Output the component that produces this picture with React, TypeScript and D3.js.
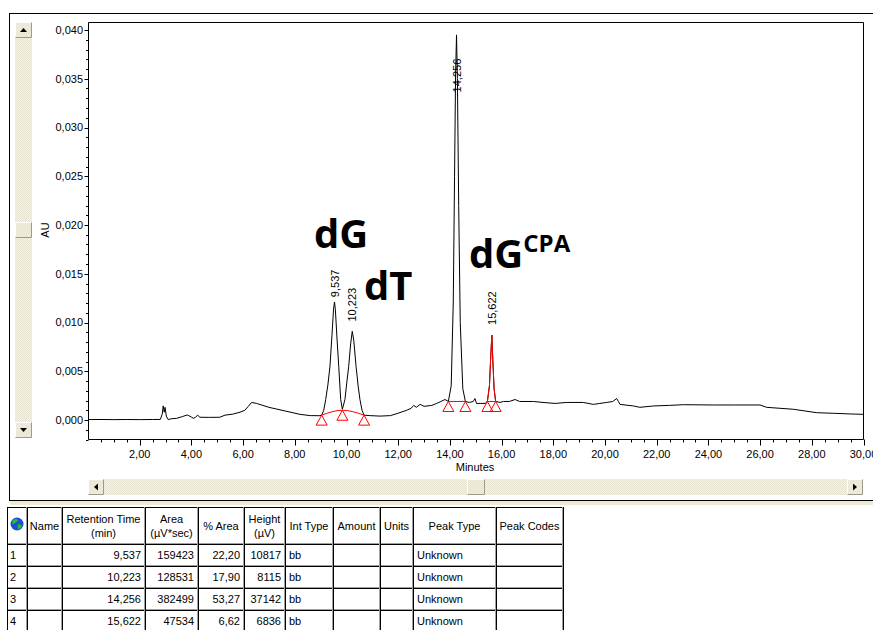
import React from "react";
import * as d3 from "d3";

// ---- Data ----
const traceTime = [0.0,0.5,1.0,1.5,2.0,2.5,2.80,2.87,2.91,2.95,2.98,3.03,3.10,3.24,3.43,3.65,3.84,4.00,4.07,4.15,4.24,4.33,4.7,5.1,5.3,5.6,5.88,6.07,6.2,6.33,6.52,7.0,7.5,8.2,8.6,8.97,9.04,9.12,9.195,9.28,9.36,9.44,9.50,9.537,9.57,9.63,9.70,9.775,9.84,9.94,10.01,10.085,10.16,10.223,10.28,10.37,10.45,10.52,10.60,10.68,10.9,11.3,11.7,12.0,12.33,12.5,12.6,12.7,12.85,13.0,13.3,13.49,13.65,13.81,13.94,14.05,14.13,14.18,14.22,14.256,14.29,14.34,14.40,14.50,14.60,14.75,14.90,14.97,15.03,15.20,15.36,15.45,15.53,15.58,15.622,15.66,15.71,15.77,15.94,16.07,16.3,16.52,16.7,17.23,17.6,18.07,18.52,19.16,19.55,19.8,20.07,20.3,20.45,20.52,20.58,21.1,21.35,21.87,22.5,23.03,24.19,25.0,26.0,26.25,27.29,28.19,28.83,29.5,30.0];
const traceAU = [0.00005,0.00005,0.00004,0.00005,0.00004,0.00005,0.00006,0.0006,0.00145,0.0008,0.0013,0.0004,0.00005,0.00013,0.00017,0.00035,0.00052,0.0003,0.00018,0.00025,0.0005,0.00028,0.00027,0.00028,0.0005,0.0006,0.0008,0.001,0.0014,0.0018,0.0017,0.0013,0.001,0.00058,0.00045,0.00044,0.0005,0.001,0.0021,0.0036,0.0055,0.0088,0.0114,0.0121,0.0113,0.0085,0.0055,0.0021,0.0011,0.0021,0.0038,0.0055,0.0078,0.0091,0.0082,0.0055,0.0035,0.0021,0.001,0.0005,0.00045,0.0004,0.00045,0.0007,0.001,0.0012,0.0015,0.0013,0.0016,0.0014,0.0015,0.0017,0.0019,0.0021,0.0019,0.0035,0.012,0.025,0.0355,0.0395,0.035,0.022,0.01,0.0032,0.0019,0.0018,0.0019,0.0022,0.0017,0.0017,0.0017,0.0019,0.0035,0.0065,0.0087,0.0062,0.0032,0.0019,0.0018,0.0019,0.0019,0.0021,0.0019,0.0019,0.0018,0.0017,0.0018,0.0018,0.0016,0.0017,0.0018,0.0019,0.0022,0.0019,0.0016,0.00144,0.0013,0.00144,0.0015,0.00157,0.00154,0.00154,0.00154,0.0013,0.0011,0.00075,0.00069,0.00062,0.00058];

const peakRT = [9.537, 10.223, 14.256, 15.622];
const peakLabels = ["9,537", "10,223", "14,256", "15,622"];
const peakLabelAU = [0.0126, 0.0101, 0.0336, 0.00975];

const markerTime = [9.04, 9.84, 10.68, 13.94, 14.60, 15.45, 15.77];
const markerAU = [0.0005, 0.0010, 0.0005, 0.0019, 0.0019, 0.0019, 0.0019];

const redPeakStart = 15.45;
const redPeakEnd = 15.77;

const yTickValues = [0, 0.005, 0.010, 0.015, 0.020, 0.025, 0.030, 0.035, 0.040];
const xTickValues = [2, 4, 6, 8, 10, 12, 14, 16, 18, 20, 22, 24, 26, 28, 30];

const tableHeaders = [
  [""], ["Name"], ["Retention Time", "(min)"], ["Area", "(\u00b5V*sec)"], ["% Area"],
  ["Height", "(\u00b5V)"], ["Int Type"], ["Amount"], ["Units"], ["Peak Type"], ["Peak Codes"],
];
const rowIndex = ["1", "2", "3", "4"];
const retentionTimes = ["9,537", "10,223", "14,256", "15,622"];
const areas = ["159423", "128531", "382499", "47534"];
const pctAreas = ["22,20", "17,90", "53,27", "6,62"];
const heights = ["10817", "8115", "37142", "6836"];
const intTypes = ["bb", "bb", "bb", "bb"];
const peakTypes = ["Unknown", "Unknown", "Unknown", "Unknown"];

const FONT = "'Liberation Sans', Arial, sans-serif";

function Button({ x, y, w, h, dir }: { x: number; y: number; w: number; h: number; dir: string }) {
  const cx = x + w / 2, cy = y + h / 2;
  let tri = "";
  if (dir === "up") tri = `M${cx - 3.5},${cy + 2} L${cx + 3.5},${cy + 2} L${cx},${cy - 2} Z`;
  if (dir === "down") tri = `M${cx - 3.5},${cy - 2} L${cx + 3.5},${cy - 2} L${cx},${cy + 2} Z`;
  if (dir === "left") tri = `M${cx + 2},${cy - 3.5} L${cx + 2},${cy + 3.5} L${cx - 2},${cy} Z`;
  if (dir === "right") tri = `M${cx - 2},${cy - 3.5} L${cx - 2},${cy + 3.5} L${cx + 2},${cy} Z`;
  return (
    <g>
      <rect x={x} y={y} width={w} height={h} fill="#ece9d8" />
      <path d={`M${x + 0.5},${y + h - 0.5} V${y + 0.5} H${x + w - 0.5}`} stroke="#ffffff" fill="none" />
      <path d={`M${x + 0.5},${y + h - 0.5} H${x + w - 0.5} V${y + 0.5}`} stroke="#9d9a8a" fill="none" />
      {tri && <path d={tri} fill="#000" />}
    </g>
  );
}

export default function App() {
  const x = d3.scaleLinear().domain([0, 30]).range([88, 863.5]);
  const y = d3.scaleLinear().domain([0, 0.04]).range([420, 30]);
  const L = 88.5, T = 22.5, R = 863.5, B = 439.5;

  const pts: [number, number][] = traceTime.map((t, i) => [t, traceAU[i]]);
  const line = d3.line<[number, number]>().x((d) => x(d[0])).y((d) => y(d[1]));
  const tracePath = line(pts) || "";
  const redPath = line(pts.filter((p) => p[0] >= redPeakStart && p[0] <= redPeakEnd)) || "";

  const arcPts: [number, number][] = [0, 1, 2].map((i) => [markerTime[i], markerAU[i]]);
  const arcPath = d3.line<[number, number]>().x((d) => x(d[0])).y((d) => y(d[1])).curve(d3.curveNatural)(arcPts) || "";
  const base3 = line([[markerTime[3], markerAU[3]], [markerTime[4], markerAU[4]]]) || "";
  const base4 = line([[markerTime[5], markerAU[5]], [markerTime[6], markerAU[6]]]) || "";

  const yMinor = d3.range(-2, 41).map((i) => i * 0.001);
  const xMinor = d3.range(1, 61).map((i) => i * 0.5);
  const fmtY = (v: number) => d3.format(".3f")(v).replace(".", ",");
  const fmtX = (v: number) => d3.format(".2f")(v).replace(".", ",");

  const colX = [7, 27, 62, 145, 198, 244, 285, 333, 380, 413, 496, 563];
  const rowY = [507, 544, 566, 588, 610, 640];

  const cellsRight = [retentionTimes, areas, pctAreas, heights];

  return (
    <svg width={873} height={630} style={{ position: "absolute", left: 0, top: 0, background: "#fff" }} fontFamily={FONT}>
      <defs>
        <pattern id="hatch" width="2" height="2" patternUnits="userSpaceOnUse">
          <rect width="2" height="2" fill="#f7f6ef" />
          <rect width="1" height="1" fill="#e3e0cf" />
          <rect x="1" y="1" width="1" height="1" fill="#e3e0cf" />
        </pattern>
        <clipPath id="plotclip">
          <rect x={L} y={T} width={R - L} height={B - T} />
        </clipPath>
      </defs>

      {/* outer panel */}
      <rect x={9.5} y={13.5} width={880} height={487} fill="none" stroke="#000" strokeWidth={1} />
      <rect x={10} y={501} width={863} height={4} fill="#ece9d8" />

      {/* vertical scrollbar */}
      <rect x={15} y={22} width={17} height={416} fill="url(#hatch)" />
      <Button x={15} y={22} w={17} h={16} dir="up" />
      <Button x={15} y={222} w={17} h={16} dir="" />
      <Button x={15} y={422} w={17} h={16} dir="down" />

      {/* horizontal scrollbar */}
      <rect x={88} y={479} width={775} height={16} fill="url(#hatch)" />
      <Button x={88} y={479} w={16} h={16} dir="left" />
      <Button x={467} y={479} w={18} h={16} dir="" />
      <Button x={847} y={479} w={16} h={16} dir="right" />

      {/* plot frame */}
      <path d={`M${L},${B} V${T} H${R} V${B} H${L}`} fill="none" stroke="#000" strokeWidth={1} />

      {/* y axis ticks */}
      {yMinor.map((v, i) => {
        const major = Math.round(v * 1000) % 5 === 0;
        return <line key={"ym" + i} x1={L - (major ? 4 : 2.5)} x2={L} y1={Math.round(y(v)) + 0.5} y2={Math.round(y(v)) + 0.5} stroke="#000" />;
      })}
      {yTickValues.map((v) => (
        <text key={"yl" + v} x={83} y={y(v)} dy="0.35em" textAnchor="end" fontSize={11} fill="#000">{fmtY(v)}</text>
      ))}
      <text transform={`translate(49,230) rotate(-90)`} textAnchor="middle" fontSize={11} fill="#000">AU</text>

      {/* x axis ticks */}
      {xMinor.map((v, i) => {
        const major = Math.abs(v / 2 - Math.round(v / 2)) < 1e-6;
        return <line key={"xm" + i} x1={Math.round(x(v)) + 0.5} x2={Math.round(x(v)) + 0.5} y1={B} y2={B + (major ? 6 : 3)} stroke="#000" />;
      })}
      {xTickValues.map((v) => (
        <text key={"xl" + v} x={x(v)} y={454} dy="0.35em" textAnchor="middle" fontSize={11} fill="#000">{fmtX(v)}</text>
      ))}
      <text x={475} y={467} dy="0.35em" textAnchor="middle" fontSize={11} fill="#000">Minutes</text>

      {/* trace */}
      <g clipPath="url(#plotclip)">
        <path d={tracePath} fill="none" stroke="#000" strokeWidth={1} />
        <path d={redPath} fill="none" stroke="#ff0000" strokeWidth={1} />
        <path d={arcPath} fill="none" stroke="#ff0000" strokeWidth={1} />
        <path d={base3} fill="none" stroke="#ff0000" strokeWidth={1} />
        <path d={base4} fill="none" stroke="#ff0000" strokeWidth={1} />
        {markerTime.map((t, i) => {
          const px = x(t), py = y(markerAU[i]);
          return <path key={"tri" + i} d={`M${px},${py} L${px + 5.5},${py + 10} L${px - 5.5},${py + 10} Z`} fill="none" stroke="#ff0000" strokeWidth={1} />;
        })}
        {peakRT.map((rt, i) => (
          <text key={"pl" + i} transform={`translate(${x(rt) + 4},${y(peakLabelAU[i])}) rotate(-90)`} fontSize={11} fill="#000">{peakLabels[i]}</text>
        ))}
      </g>

      {/* annotations */}
      <text x={314} y={248} fontFamily="'Open Sans', sans-serif" fontWeight="bold" fontSize={40} fill="#000">dG</text>
      <text x={364} y={300} fontFamily="'Open Sans', sans-serif" fontWeight="bold" fontSize={40} fill="#000">dT</text>
      <text x={469} y={268} fontFamily="'Open Sans', sans-serif" fontWeight="bold" fontSize={40} fill="#000">dG<tspan fontSize={24} dy={-16}>CPA</tspan></text>

      {/* table */}
      <g>
        {/* header icon */}
        <circle cx={17} cy={524} r={6.5} fill="#1d4fd8" />
        <path d="M13,520 q3,-2 5,0 q-1,3 -3,3 q-2,2 -3,0 z" fill="#22c02a" />
        <path d="M18,524 q3,0 4,2 q-1,3 -4,3 q-1,-3 0,-5 z" fill="#22c02a" />
        {rowY.slice(0, 5).map((ry, i) => (
          <g key={"hl" + i}>
            <line x1={colX[0]} x2={colX[colX.length - 1]} y1={ry + 0.5} y2={ry + 0.5} stroke="#000" />
            {i > 0 && <line x1={colX[0]} x2={colX[colX.length - 1]} y1={ry - 0.5} y2={ry - 0.5} stroke="#a0a0a0" />}
          </g>
        ))}
        {colX.map((cx, i) => (
          <g key={"vl" + i}>
            <line x1={cx + 0.5} x2={cx + 0.5} y1={rowY[0]} y2={630} stroke="#000" />
            {i > 0 && <line x1={cx - 0.5} x2={cx - 0.5} y1={rowY[0]} y2={630} stroke="#a0a0a0" />}
          </g>
        ))}
        {tableHeaders.map((lines, i) => {
          if (i === 0) return null;
          const cx = (colX[i] + colX[i + 1]) / 2;
          if (lines.length === 1) {
            return <text key={"th" + i} x={cx} y={526} dy="0.35em" textAnchor="middle" fontSize={11} fill="#000">{lines[0]}</text>;
          }
          return (
            <g key={"th" + i}>
              <text x={cx} y={519} dy="0.35em" textAnchor="middle" fontSize={11} fill="#000">{lines[0]}</text>
              <text x={cx} y={533} dy="0.35em" textAnchor="middle" fontSize={11} fill="#000">{lines[1]}</text>
            </g>
          );
        })}
        {rowIndex.map((r, ri) => {
          const cy = (rowY[ri + 1] + (ri + 2 < rowY.length ? Math.min(rowY[ri + 2], rowY[ri + 1] + 22) : rowY[ri + 1] + 22)) / 2;
          return (
            <g key={"row" + ri}>
              <text x={10} y={cy} dy="0.35em" fontSize={11} fill="#000">{r}</text>
              {cellsRight.map((col, ci) => (
                <text key={"c" + ci} x={colX[ci + 3] - 4} y={cy} dy="0.35em" textAnchor="end" fontSize={11} fill="#000">{col[ri]}</text>
              ))}
              <text x={colX[6] + 4} y={cy} dy="0.35em" fontSize={11} fill="#000">{intTypes[ri]}</text>
              <text x={colX[9] + 4} y={cy} dy="0.35em" fontSize={11} fill="#000">{peakTypes[ri]}</text>
            </g>
          );
        })}
      </g>
    </svg>
  );
}
